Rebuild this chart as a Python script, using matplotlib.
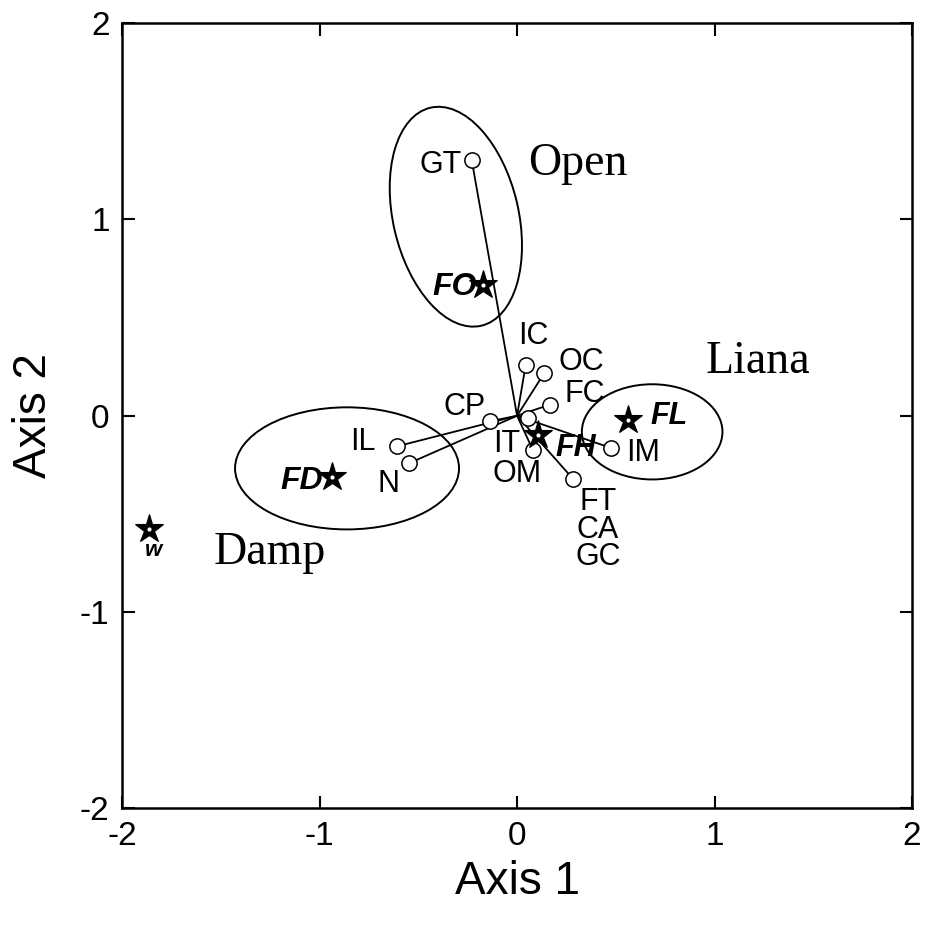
import matplotlib
matplotlib.use("Agg")
import matplotlib.pyplot as plt
from matplotlib.patches import Ellipse

plt.rcParams['font.family'] = ['Liberation Sans', 'DejaVu Sans']
plt.rcParams['axes.unicode_minus'] = False

# ---- data ----
point_names = ['GT', 'IC', 'OC', 'FC', 'CP', 'IT', 'OM', 'IM', 'FT\nCA\nGC', 'IL', 'N']
point_x = [-0.23, 0.044, 0.138, 0.167, -0.137, 0.054, 0.079, 0.476, 0.282, -0.609, -0.545]
point_y = [1.304, 0.261, 0.218, 0.057, -0.028, -0.011, -0.172, -0.164, -0.32, -0.156, -0.241]

star_names = ['FO', 'FH', 'FL', 'FD', 'w']
star_x = [-0.172, 0.108, 0.564, -0.938, -1.862]
star_y = [0.666, -0.096, -0.023, -0.312, -0.576]

group_names = ['Open', 'Liana', 'Damp']
group_cx = [-0.31, 0.684, -0.861]
group_cy = [1.014, -0.082, -0.268]
group_w = [1.14, 0.712, 1.134]
group_h = [0.635, 0.485, 0.622]
group_angle = [103, 0, 0]

hub = (0.0, 0.0)

ticks = [-2, -1, 0, 1, 2]
tick_labels = ['-2', '-1', '0', '1', '2']

# ---- layout (label offsets in pixels, converted to points) ----
PX = 0.72
point_label_layout = {
    'GT': (-9.7, -13, 'right'),
    'IC': (7.6, 21, 'center'),
    'OC': (14, 3.4, 'left'),
    'FC': (14.3, 2.6, 'left'),
    'CP': (-4, 6, 'right'),
    'IT': (-7.7, -34, 'right'),
    'OM': (-15.7, -32.4, 'center'),
    'IM': (15, -13, 'left'),
    'FT\nCA\nGC': (25.3, -86.7, 'center'),
    'IL': (-20.7, -4, 'right'),
    'N': (-21, -29, 'center'),
}
star_label_layout = {
    'FO': (-6, -10, 'right', 23),
    'FH': (16.7, -21.7, 'left', 22),
    'FL': (21.7, -3.3, 'left', 22),
    'FD': (-8.4, -12.3, 'right', 23),
    'w': (4, -26.7, 'center', 16),
}
group_label_pos = {
    'Open': (0.056, 1.227),
    'Liana': (0.957, 0.217),
    'Damp': (-1.539, -0.753),
}

fig = plt.figure(figsize=(9.25, 9.27), dpi=100)
ax = fig.add_axes([0.132, 0.128, 0.854, 0.847])

# lines from hub
for x, y in zip(point_x, point_y):
    ax.plot([hub[0], x], [hub[1], y], color='black', lw=1.3, zorder=2)

# ellipses
for cx, cy, w, h, a in zip(group_cx, group_cy, group_w, group_h, group_angle):
    ax.add_patch(Ellipse((cx, cy), w, h, angle=a, fill=False, ec='black', lw=1.4, zorder=1))

# circles
ax.plot(point_x, point_y, 'o', ms=11, mfc='white', mec='black', mew=1.1, zorder=3, ls='none')

# stars (black with a small white centre)
ax.plot(star_x, star_y, '*', ms=21, mfc='black', mec='black', mew=0.8, zorder=4, ls='none')
ax.plot(star_x, star_y, 'o', ms=3, mfc='white', mec='none', zorder=4.5, ls='none')

# point labels
for name, x, y in zip(point_names, point_x, point_y):
    dx, dy, ha = point_label_layout[name]
    ax.annotate(name, (x, y), xytext=(dx * PX, dy * PX),
                textcoords='offset points', ha=ha, va='baseline',
                multialignment='center', linespacing=0.89,
                fontsize=22, zorder=5)

for name, x, y in zip(star_names, star_x, star_y):
    dx, dy, ha, fs = star_label_layout[name]
    ax.annotate(name, (x, y), xytext=(dx * PX, dy * PX), textcoords='offset points',
                ha=ha, va='baseline', fontsize=fs, fontweight='bold',
                fontstyle='italic', zorder=5)

for name in group_names:
    gx, gy = group_label_pos[name]
    ax.text(gx, gy, name, ha='left', va='baseline', fontsize=33,
            family=['Liberation Serif', 'DejaVu Serif'])

ax.set_xlim(-2, 2)
ax.set_ylim(-2, 2)
ax.set_xticks(ticks)
ax.set_xticklabels(tick_labels)
ax.set_yticks(ticks)
ax.set_yticklabels(tick_labels)
ax.tick_params(direction='in', length=9, width=1.5, top=True, right=True,
               labelsize=24, pad=9)
for s in ax.spines.values():
    s.set_linewidth(1.8)

ax.set_xlabel('Axis 1', fontsize=33, labelpad=6)
ax.set_ylabel('Axis 2', fontsize=33, labelpad=17)

fig.savefig('out.png', dpi=100)
